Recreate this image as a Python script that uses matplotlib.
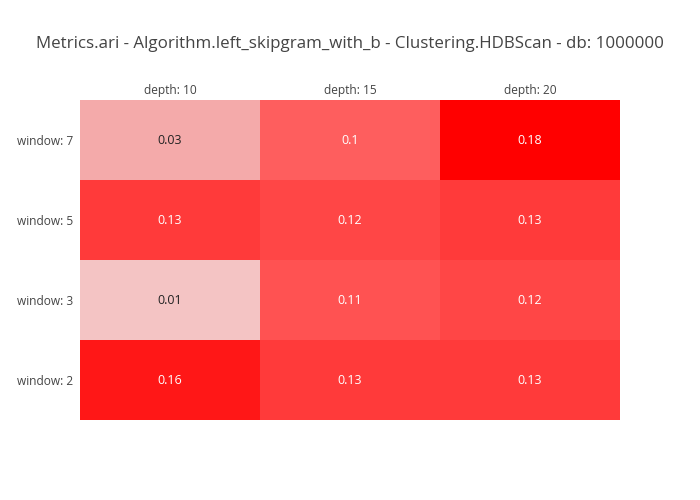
import numpy as np
import matplotlib.pyplot as plt
from matplotlib.colors import LinearSegmentedColormap

plt.rcParams['font.family'] = ['Open Sans', 'DejaVu Sans']

# Datos del heatmap
cols = ['depth: 10', 'depth: 15', 'depth: 20']
rows = ['window: 7', 'window: 5', 'window: 3', 'window: 2']
values = [
    [0.03, 0.10, 0.18],
    [0.13, 0.12, 0.13],
    [0.01, 0.11, 0.12],
    [0.16, 0.13, 0.13],
]
z = np.array(values)

cmap = LinearSegmentedColormap.from_list(
    'pinkred',
    [(0.0, '#f4c4c4'), (0.118, '#f5aaaa'), (0.53, '#ff5e5e'), (1.0, '#ff0000')])

fig = plt.figure(figsize=(7, 5), dpi=100)
ax = fig.add_axes([80 / 700, 80 / 500, 540 / 700, 320 / 500])
ax.imshow(z, cmap=cmap, vmin=z.min(), vmax=z.max(), aspect='auto')

for i in range(z.shape[0]):
    for j in range(z.shape[1]):
        txt = f'{z[i, j]:g}'
        color = '#222222' if z[i, j] < 0.05 else 'white'
        ax.text(j, i + 0.01, txt, ha='center', va='center', color=color, fontsize=9)

ax.xaxis.tick_top()
ax.set_xticks(range(len(cols)))
ax.set_xticklabels(cols, fontsize=8.6, color='#444444')
ax.set_yticks(range(len(rows)))
ax.set_yticklabels(rows, fontsize=8.6, color='#444444')
ax.tick_params(length=0, pad=2)
ax.tick_params(axis='y', pad=5)
for s in ax.spines.values():
    s.set_visible(False)

fig.text(350 / 700, 1 - 44 / 500,
         'Metrics.ari - Algorithm.left_skipgram_with_b - Clustering.HDBScan - db: 1000000',
         ha='center', va='center', fontsize=12.2, color='#444444')

plt.savefig('out.png', dpi=100)
